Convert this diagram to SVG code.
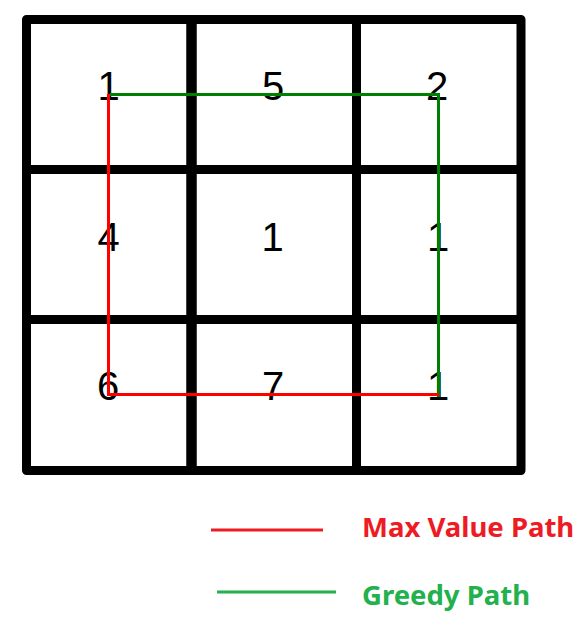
<svg xmlns="http://www.w3.org/2000/svg" width="582" height="620" viewBox="0 0 582 620">
<style>
.grid{stroke:#000;stroke-width:9;fill:none;stroke-linejoin:round}
.num{font-family:"Liberation Sans",Arial,sans-serif;font-size:40px;fill:#000;text-anchor:middle}
.leg{font-family:"Noto Sans","Open Sans",sans-serif;font-weight:bold;font-size:27.5px}
</style>
<rect width="582" height="620" fill="#fff"/>
<g id="grid">
<rect class="grid" x="26.5" y="19.5" width="494.5" height="451"/>
<line class="grid" x1="191.5" y1="19.5" x2="191.5" y2="470.5" style="stroke-width:10.5"/>
<line class="grid" x1="356.5" y1="19.5" x2="356.5" y2="470.5"/>
<line class="grid" x1="26.5" y1="169.5" x2="521" y2="169.5"/>
<line class="grid" x1="26.5" y1="319.5" x2="521" y2="319.5"/>
</g>
<g id="numbers">
<text id="c00" class="num" x="108.5" y="100">1</text>
<text id="c01" class="num" x="273" y="100">5</text>
<text id="c02" class="num" x="437" y="100">2</text>
<text id="c10" class="num" x="108.5" y="251">4</text>
<text id="c11" class="num" x="272.5" y="251">1</text>
<text id="c12" class="num" x="438" y="251">1</text>
<text id="c20" class="num" x="108" y="400">6</text>
<text id="c21" class="num" x="273" y="400">7</text>
<text id="c22" class="num" x="438" y="400">1</text>
</g>
<g id="connectors">
<polyline id="greedy" points="110,94.5 438.5,94.5 438.5,397" fill="none" stroke="#008000" stroke-width="3"/>
<polyline id="maxpath" points="108.5,94 108.5,394.5 439,394.5" fill="none" stroke="#ff0000" stroke-width="3"/>
</g>
<g id="legend">
<line x1="211" y1="530" x2="323" y2="530" stroke="#ed1c24" stroke-width="3"/>
<text class="leg" x="362" y="537" fill="#ed1c24">Max Value Path</text>
<line x1="217" y1="592" x2="336" y2="592" stroke="#22b14c" stroke-width="3"/>
<text class="leg" x="362" y="605" fill="#22b14c">Greedy Path</text>
</g>
</svg>
